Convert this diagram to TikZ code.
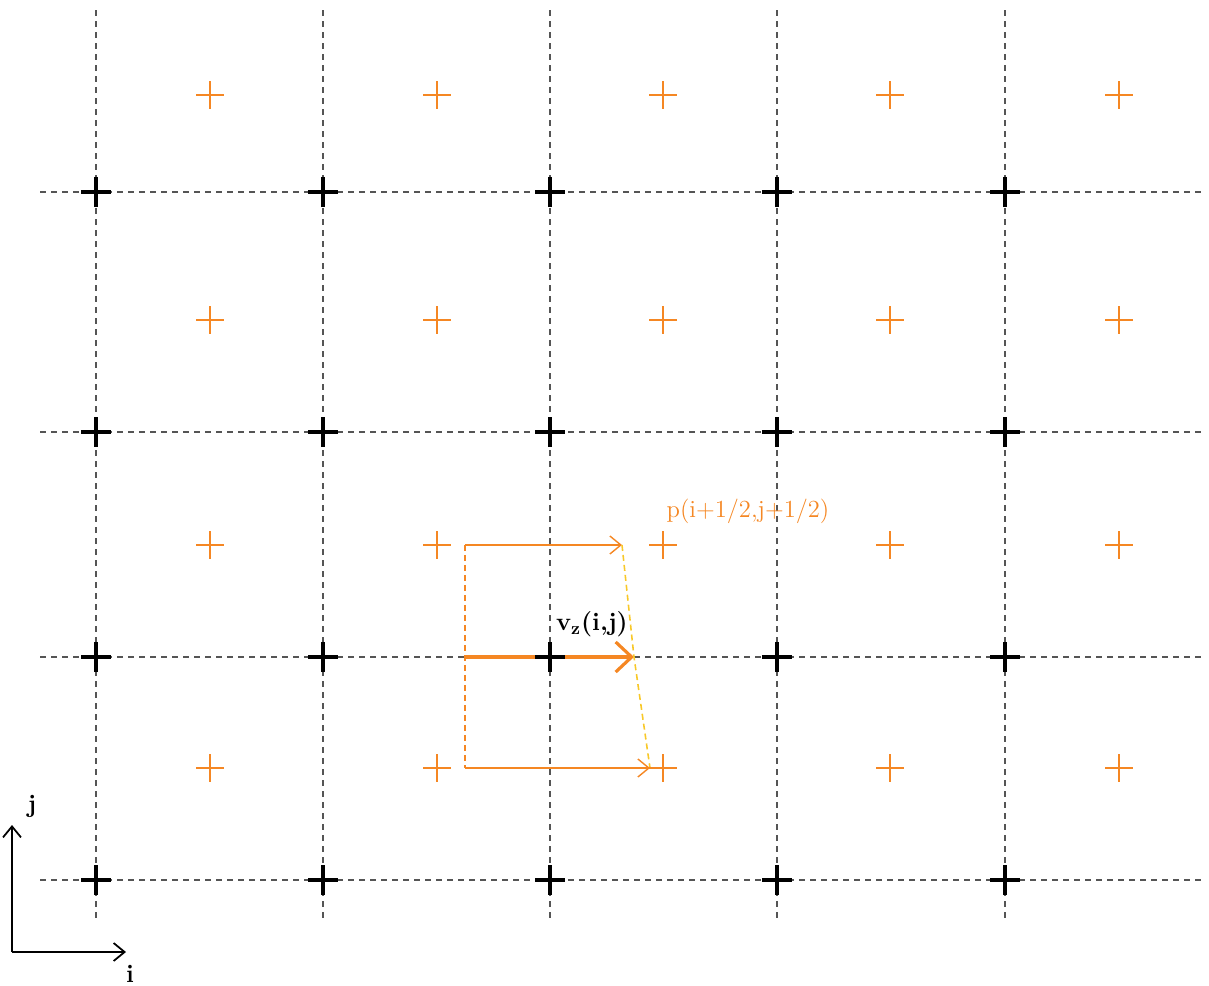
\documentclass[tikz,border=0pt]{standalone}
\usepackage{amsmath, amssymb}
\usetikzlibrary{arrows.meta}
\definecolor{gridgray}{RGB}{85,85,85}
\definecolor{vorange}{RGB}{245,135,35}
\definecolor{vyellow}{RGB}{248,200,40}
\newcommand*{\blackcross}[1]{%
  \draw[line width=2.5pt,black] (#1) ++(-15,0) -- ++(30,0) (#1) ++(0,-15) -- ++(0,30);%
}
\newcommand*{\orangecross}[1]{%
  \draw[line width=0.9pt,vorange] (#1) ++(-14,0) -- ++(28,0) (#1) ++(0,-14) -- ++(0,28);%
}
\tikzset{
  gridline/.style={gridgray, line width=0.7pt, dash pattern=on 1.2mm off 1mm},
  flux/.style={vorange, line width=0.8pt, -{Straight Barb[length=2.2mm,width=3.6mm]}},
  bigflux/.style={vorange, line width=1.8pt, -{Straight Barb[length=3.2mm,width=6mm,line width=1.8pt]}},
  odash/.style={vorange, line width=0.8pt, dash pattern=on 1.2mm off 0.8mm},
  ydash/.style={vyellow, line width=0.9pt, dash pattern=on 1.2mm off 0.8mm},
  axisarrow/.style={black, line width=1pt, -{Straight Barb[length=2.2mm,width=3.6mm]}}
}
\begin{document}
\begin{tikzpicture}[x=0.2mm, y=-0.2mm]
\useasboundingbox (0,0) rectangle (1209,985);

% grid
\foreach \x in {96,323,550,777,1005}
  \draw[gridline] (\x,10) -- (\x,922);
\foreach \y in {192,432,657,880}
  \draw[gridline] (40,\y) -- (1205,\y);

% velocity points on the cell faces
\coordinate (ul) at (465,545);
\coordinate (ml) at (465,657);
\coordinate (ll) at (465,768);
\coordinate (ur) at (622,545);
\coordinate (mr) at (634,657);
\coordinate (lr) at (650,768);

\draw[odash] (ul) -- (ll);
\draw[flux] (ul) -- (ur);
\draw[flux] (ll) -- (lr);
\draw[bigflux] (ml) -- (mr);
\draw[ydash] (ur) -- (mr) -- (lr);

% black nodes i,j
\foreach \x [count=\i] in {96,323,550,777,1005}
  \foreach \y [count=\j] in {192,432,657,880} {
    \coordinate (n\i\j) at (\x,\y);
    \blackcross{n\i\j}
  }

% orange nodes i+1/2,j+1/2
\foreach \x [count=\i] in {210,437,663,890,1119}
  \foreach \y [count=\j] in {95,320,545,768} {
    \coordinate (c\i\j) at (\x,\y);
    \orangecross{c\i\j}
  }

\node[black, font=\Large\bfseries] (vz) at (592,624) {v$_{\mathbf{z}}$(i,j)};
\node[vorange, font=\fontsize{14}{16}\selectfont] (p) at (748,511) {p(i+1/2,j+1/2)};

% axes
\coordinate (o) at (12,952);
\coordinate (jtip) at (12,825);
\coordinate (itip) at (126,952);
\draw[axisarrow] (o) -- (jtip);
\draw[axisarrow] (o) -- (itip);
\node[font=\Large\bfseries] (jlab) at (32,806) {j};
\node[font=\Large\bfseries] (ilab) at (130,974) {i};
\end{tikzpicture}
\end{document}
